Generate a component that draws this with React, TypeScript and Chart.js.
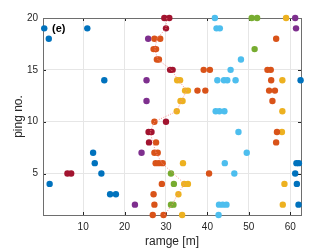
import React, { useEffect, useRef } from "react";
import { Chart, registerables } from "chart.js";

Chart.register(...registerables);

// ---- data ----
const rangeTicks = [10, 20, 30, 40, 50, 60];
const pingTicks = [5, 10, 15, 20];

const blueRange = [0.6, 11.0, 1.7, 15.1, 62.5, 12.4, 12.8, 61.5, 62.1, 14.4, 61.2, 1.9, 61.6, 16.5, 17.9, 62.0];
const bluePing = [19, 19, 18, 14, 14, 7, 6, 6, 6, 5, 5, 4, 4, 3, 3, 2];

const orangeRange = [27.2, 28.6, 56.6, 27.0, 27.6, 27.8, 28.3, 39.1, 40.6, 54.5, 55.3, 55.4, 37.6, 39.5, 54.9, 56.3, 55.7, 27.2, 56.8, 27.6, 56.6, 27.2, 28.0, 27.5, 28.3, 29.2, 40.4, 29.0, 27.0, 27.2, 26.8, 29.4];
const orangePing = [18, 18, 18, 17, 17, 16, 16, 15, 15, 15, 15, 14, 13, 13, 13, 13, 12, 10, 9, 8, 8, 7, 7, 6, 6, 6, 5, 4, 3, 2, 1, 1];

const yellowRange = [59.0, 32.7, 33.4, 58.1, 34.6, 35.3, 33.5, 34.0, 32.6, 58.1, 58.0, 34.1, 34.4, 35.3, 58.6, 33.0, 58.2, 33.9];
const yellowPing = [20, 14, 14, 14, 13, 13, 12, 12, 11, 11, 9, 6, 4, 4, 4, 3, 2, 1];

const purpleRange = [61.2, 61.4, 25.7, 25.3, 25.3, 24.1, 22.5];
const purplePing = [20, 19, 18, 14, 12, 7, 2];

const greenRange = [50.7, 52.0, 51.4, 31.2, 31.9, 31.2, 31.8];
const greenPing = [20, 20, 17, 5, 4, 2, 2];

const cyanRange = [41.8, 42.2, 43.0, 48.1, 45.6, 42.4, 44.0, 44.8, 46.8, 42.0, 42.9, 44.1, 47.5, 49.5, 44.2, 46.5, 42.8, 43.7, 44.6, 42.7];
const cyanPing = [20, 19, 19, 16, 15, 14, 14, 14, 14, 11, 11, 11, 9, 7, 6, 5, 2, 2, 2, 1];

const redRange = [29.6, 30.8, 30.0, 31.0, 31.6, 30.0, 25.8, 26.5, 25.9, 6.2, 7.1];
const redPing = [20, 20, 19, 15, 15, 10, 9, 9, 8, 5, 5];

const trackPing = [1, 2, 3, 4, 5, 6, 7, 8, 9, 10, 11, 12, 13, 14, 15, 16, 17, 18, 19, 20];
const trackRange = [29.6, 31.5, 32.8, 34.5, 31.8, 29.0, 27.6, 26.8, 26.2, 27.2, 32.6, 33.7, 35.0, 33.0, 31.3, 28.0, 27.3, 27.8, 30.0, 30.2];

const xMin = 0.3;
const xMax = 62.6;
const yMin = 1;
const yMax = 20;

const pts = (xs: number[], ys: number[]) => xs.map((x, i) => ({ x, y: ys[i] }));

const boxPlugin = {
  id: "box",
  beforeDatasetsDraw(chart: any) {
    const { ctx, chartArea: a, scales } = chart;
    ctx.save();
    ctx.strokeStyle = "#262626";
    ctx.lineWidth = 1;
    ctx.beginPath();
    const tl = 3;
    rangeTicks.forEach((v) => {
      const px = Math.round(scales.x.getPixelForValue(v)) + 0.5;
      ctx.moveTo(px, a.bottom);
      ctx.lineTo(px, a.bottom - tl);
      ctx.moveTo(px, a.top);
      ctx.lineTo(px, a.top + tl);
    });
    pingTicks.forEach((v) => {
      const py = Math.round(scales.y.getPixelForValue(v)) + 0.5;
      ctx.moveTo(a.left, py);
      ctx.lineTo(a.left + tl, py);
      ctx.moveTo(a.right, py);
      ctx.lineTo(a.right - tl, py);
    });
    ctx.stroke();
    ctx.strokeStyle = "#6e6e6e";
    ctx.strokeRect(Math.round(a.left) + 0.5, Math.round(a.top) + 0.5, Math.round(a.right - a.left), Math.round(a.bottom - a.top));
    ctx.restore();
  },
  afterDraw(chart: any) {
    const { ctx } = chart;
    ctx.save();
    ctx.fillStyle = "#000";
    ctx.font = "bold 11px 'Liberation Sans', Arial, sans-serif";
    ctx.textBaseline = "middle";
    ctx.textAlign = "left";
    ctx.fillText("(e)", 52, 29);
    ctx.restore();
  },
};

const scatterSet = (label: string, xs: number[], ys: number[], color: string) => ({
  type: "scatter" as const,
  label,
  data: pts(xs, ys),
  backgroundColor: color,
  borderColor: color,
  borderWidth: 0,
  pointRadius: 3.2,
  pointHoverRadius: 3.2,
  showLine: false,
  clip: false as any,
  order: 5,
});

export default function App() {
  const ref = useRef<HTMLCanvasElement | null>(null);

  useEffect(() => {
    document.body.style.margin = "0";
    if (!ref.current) return;
    const font = "'Liberation Sans', Arial, sans-serif";
    const chart = new Chart(ref.current, {
      type: "scatter",
      data: {
        datasets: [
          {
            type: "line" as const,
            label: "track",
            data: pts(trackRange, trackPing),
            borderColor: "rgba(250,140,140,0.9)",
            borderWidth: 1,
            borderDash: [1, 1.5],
            pointRadius: 0,
            fill: false,
            order: 0,
          } as any,
          scatterSet("blue", blueRange, bluePing, "#0072BD"),
          scatterSet("orange", orangeRange, orangePing, "#D95319"),
          scatterSet("yellow", yellowRange, yellowPing, "#EDB120"),
          scatterSet("purple", purpleRange, purplePing, "#7E2F8E"),
          scatterSet("green", greenRange, greenPing, "#77AC30"),
          scatterSet("cyan", cyanRange, cyanPing, "#4DBEEE"),
          scatterSet("red", redRange, redPing, "#A2142F"),
        ],
      },
      options: {
        responsive: false,
        animation: false,
        events: [],
        layout: { padding: { left: 0, top: 18, right: 31, bottom: 0 } },
        plugins: { legend: { display: false }, tooltip: { enabled: false } },
        scales: {
          x: {
            type: "linear",
            min: xMin,
            max: xMax,
            afterBuildTicks: (s: any) => {
              s.ticks = rangeTicks.map((v) => ({ value: v }));
            },
            afterFit: (s: any) => {
              s.height = 34;
            },
            grid: { color: "#e6e6e6", drawTicks: false, lineWidth: 1 },
            border: { display: false },
            ticks: { color: "#262626", font: { size: 10, family: font }, padding: 6, maxRotation: 0, autoSkip: false },
            title: { display: true, text: "ramge [m]", color: "#262626", font: { size: 12, family: font }, padding: { top: 0, bottom: 0 } },
          },
          y: {
            type: "linear",
            min: yMin,
            max: yMax,
            afterBuildTicks: (s: any) => {
              s.ticks = pingTicks.map((v) => ({ value: v }));
            },
            afterFit: (s: any) => {
              s.width = 43;
            },
            grid: { color: "#e6e6e6", drawTicks: false, lineWidth: 1 },
            border: { display: false },
            ticks: { color: "#262626", font: { size: 10, family: font }, padding: 5, autoSkip: false },
            title: { display: true, text: "ping no.", color: "#262626", font: { size: 12, family: font }, padding: { top: 11, bottom: 0 } },
          },
        },
      },
      plugins: [boxPlugin],
    } as any);
    return () => chart.destroy();
  }, []);

  return <canvas ref={ref} width={332} height={249} style={{ display: "block" }} />;
}
